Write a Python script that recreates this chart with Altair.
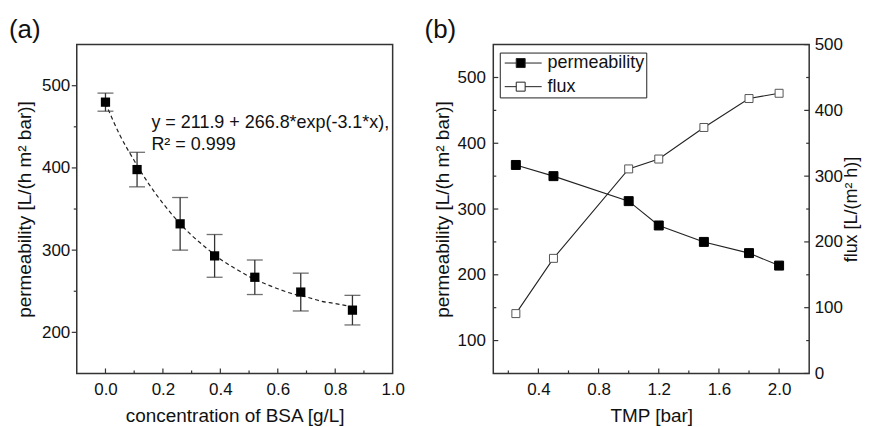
import altair as alt
import pandas as pd

FONT = "Liberation Sans"
INK = "#111111"
FRAME = "#333333"

# ---------------- panel (a) data ----------------
bsa_conc = [0.0, 0.11, 0.26, 0.38, 0.52, 0.68, 0.86]
bsa_perm = [480, 398, 332, 293, 267, 249, 227]
bsa_err = [11, 21, 32, 26, 21, 23, 18]
# dashed fit curve
fit_x = [0.0, 0.05, 0.1, 0.15, 0.2, 0.25, 0.3, 0.35, 0.4, 0.45, 0.5, 0.55, 0.6, 0.65, 0.7, 0.75, 0.8, 0.86]
fit_y = [479, 440, 409, 381, 357, 336, 318, 303, 289, 278, 268, 260, 253, 247, 243, 238, 235, 231]
fit_label = ["y = 211.9 + 266.8*exp(-3.1*x),", "R\u00b2 = 0.999"]

a_x_labels = [0.0, 0.2, 0.4, 0.6, 0.8, 1.0]
a_x_major = [0.0, 0.2, 0.4, 0.6, 0.8]
a_x_minor = [0.1, 0.3, 0.5, 0.7, 0.9]
a_y_major = [200, 300, 400, 500]
a_y_minor = [250, 350, 450]

# ---------------- panel (b) data ----------------
tmp = [0.25, 0.5, 1.0, 1.2, 1.5, 1.8, 2.0]
tmp_perm = [367, 350, 312, 275, 250, 233, 214]
tmp_flux = [91, 175, 311, 326, 374, 418, 426]
series = ["permeability", "flux"]

b_x_major = [0.4, 0.8, 1.2, 1.6, 2.0]
b_x_minor = [0.2, 0.6, 1.0, 1.4, 1.8]
b_yl_major = [100, 200, 300, 400, 500]
b_yl_minor = [150, 250, 350, 450]
b_yr_major = [0, 100, 200, 300, 400, 500]
b_yr_minor = [50, 150, 250, 350, 450]

W, H = 317, 330

# ================= panel (a) =================
xa = alt.Scale(domain=[-0.1, 1.0], nice=False, zero=False)
ya = alt.Scale(domain=[150, 550], nice=False, zero=False)
ax_xa = alt.Axis(title="concentration of BSA [g/L]", values=a_x_labels, format=".1f",
                 labelPadding=8, titlePadding=9)
ax_ya = alt.Axis(title="permeability [L/(h m\u00b2 bar)]", values=a_y_major,
                 labelPadding=7, titlePadding=7)

df_a = pd.DataFrame({
    "c": bsa_conc,
    "p": bsa_perm,
    "lo": [p - e for p, e in zip(bsa_perm, bsa_err)],
    "hi": [p + e for p, e in zip(bsa_perm, bsa_err)],
})
df_fit = pd.DataFrame({"c": fit_x, "p": fit_y})

fit = alt.Chart(df_fit).mark_line(
    strokeDash=[4, 3], strokeWidth=1.2, color="#222222", interpolate="monotone"
).encode(
    x=alt.X("c:Q", scale=xa, axis=ax_xa),
    y=alt.Y("p:Q", scale=ya, axis=ax_ya),
)
err = alt.Chart(df_a).mark_rule(color=FRAME, strokeWidth=1.3).encode(
    x=alt.X("c:Q", scale=xa, axis=ax_xa),
    y=alt.Y("lo:Q", scale=ya, axis=ax_ya),
    y2="hi:Q",
)
cap_lo = alt.Chart(df_a).mark_tick(orient="horizontal", size=16, thickness=1.3, color=FRAME).encode(
    x=alt.X("c:Q", scale=xa, axis=ax_xa),
    y=alt.Y("lo:Q", scale=ya, axis=ax_ya),
)
cap_hi = alt.Chart(df_a).mark_tick(orient="horizontal", size=16, thickness=1.3, color=FRAME).encode(
    x=alt.X("c:Q", scale=xa, axis=ax_xa),
    y=alt.Y("hi:Q", scale=ya, axis=ax_ya),
)
pts_a = alt.Chart(df_a).mark_square(size=86, color="black", opacity=1).encode(
    x=alt.X("c:Q", scale=xa, axis=ax_xa),
    y=alt.Y("p:Q", scale=ya, axis=ax_ya),
)
eq = alt.Chart(pd.DataFrame({"k": [0]})).mark_text(
    text=fit_label, align="left", baseline="alphabetic", font=FONT,
    fontSize=18, lineHeight=22.6, color=INK,
).encode(x=alt.datum(0.16, scale=xa, axis=ax_xa), y=alt.datum(448.6, scale=ya, axis=ax_ya))


def xticks(vals, scale, axis, length):
    return alt.Chart(pd.DataFrame({"c": vals})).mark_rule(color=FRAME, strokeWidth=1.2).encode(
        x=alt.X("c:Q", scale=scale, axis=axis), y=alt.value(H), y2=alt.value(H - length))


def yticks(vals, scale, axis, field, x0, x1):
    return alt.Chart(pd.DataFrame({field: vals})).mark_rule(color=FRAME, strokeWidth=1.2).encode(
        y=alt.Y(field + ":Q", scale=scale, axis=axis), x=alt.value(x0), x2=alt.value(x1))


lab_a = alt.Chart(pd.DataFrame({"k": [0]})).mark_text(
    text="(a)", align="left", baseline="top", font=FONT, fontSize=26, color=INK
).encode(x=alt.value(-68), y=alt.value(-28))

panel_a = alt.layer(
    fit, err, cap_lo, cap_hi, pts_a, eq,
    xticks(a_x_major, xa, ax_xa, 5), xticks(a_x_minor, xa, ax_xa, 3),
    yticks(a_y_major, ya, ax_ya, "p", 0, -5), yticks(a_y_minor, ya, ax_ya, "p", 0, -3),
    lab_a,
).properties(width=W, height=H)

# ================= panel (b) =================
xb = alt.Scale(domain=[0.1, 2.2], nice=False, zero=False)
ybl = alt.Scale(domain=[50, 550], nice=False, zero=False)
ybr = alt.Scale(domain=[0, 500], nice=False, zero=False)
ax_xb = alt.Axis(title="TMP [bar]", values=b_x_major, format=".1f", labelPadding=8, titlePadding=9)
ax_ybl = alt.Axis(title="permeability [L/(h m\u00b2 bar)]", values=b_yl_major,
                  labelPadding=8, titlePadding=5)
ax_ybr = alt.Axis(orient="right", title="flux [L/(m\u00b2 h)]", values=b_yr_major,
                  labelPadding=5, titlePadding=0, titleAngle=270, titleBaseline="top",
                  titleFontSize=18)

df_perm = pd.DataFrame({"TMP": tmp, "perm": tmp_perm, "series": series[0]})
df_flux = pd.DataFrame({"TMP": tmp, "flux": tmp_flux, "series": series[1]})

# legend glyph: short line with a square on it (unit = 8.5 px)
sym = "M-0.65,0H0.71M1.76,0H3.71M0.71,-0.53H1.76V0.53H0.71Z"
legend = alt.Legend(
    title=None, orient="none", legendX=6.5, legendY=8,
    strokeColor="#222222", padding=1.5, symbolType=sym, symbolSize=289,
    symbolStrokeColor="#222222", symbolStrokeWidth=1, symbolOffset=0,
    labelOffset=28.5, labelFont=FONT, labelFontSize=18, labelColor=INK,
    rowPadding=5.7,
)
fill_enc = alt.Fill("series:N", scale=alt.Scale(domain=series, range=["black", "white"]), legend=legend)

perm_line = alt.Chart(df_perm).mark_line(color="#222222", strokeWidth=1.1).encode(
    x=alt.X("TMP:Q", scale=xb, axis=ax_xb),
    y=alt.Y("perm:Q", scale=ybl, axis=ax_ybl),
)
perm_pts = alt.Chart(df_perm).mark_square(size=81, stroke="black", strokeWidth=1, opacity=1).encode(
    x=alt.X("TMP:Q", scale=xb, axis=ax_xb),
    y=alt.Y("perm:Q", scale=ybl, axis=ax_ybl),
    fill=fill_enc,
)
lab_b = alt.Chart(pd.DataFrame({"k": [0]})).mark_text(
    text="(b)", align="left", baseline="top", font=FONT, fontSize=26, color=INK
).encode(x=alt.value(-69), y=alt.value(-28))


def xticks_b(vals, length):
    return alt.Chart(pd.DataFrame({"TMP": vals})).mark_rule(color=FRAME, strokeWidth=1.2).encode(
        x=alt.X("TMP:Q", scale=xb, axis=ax_xb), y=alt.value(H), y2=alt.value(H - length))


perm_layer = alt.layer(
    perm_line, perm_pts,
    xticks_b(b_x_major, 5), xticks_b(b_x_minor, 3),
    yticks(b_yl_major, ybl, ax_ybl, "perm", 0, 5), yticks(b_yl_minor, ybl, ax_ybl, "perm", 0, 3),
    lab_b,
)

flux_line = alt.Chart(df_flux).mark_line(color="#222222", strokeWidth=1.1).encode(
    x=alt.X("TMP:Q", scale=xb, axis=ax_xb),
    y=alt.Y("flux:Q", scale=ybr, axis=ax_ybr),
)
flux_pts = alt.Chart(df_flux).mark_square(size=64, stroke="#555555", strokeWidth=1, opacity=1).encode(
    x=alt.X("TMP:Q", scale=xb, axis=ax_xb),
    y=alt.Y("flux:Q", scale=ybr, axis=ax_ybr),
    fill=fill_enc,
)
flux_layer = alt.layer(
    flux_line, flux_pts,
    yticks(b_yr_major, ybr, ax_ybr, "flux", W, W - 5), yticks(b_yr_minor, ybr, ax_ybr, "flux", W, W - 3),
)

panel_b = alt.layer(perm_layer, flux_layer).resolve_scale(y="independent").properties(width=W, height=H)

chart = alt.hconcat(panel_a, panel_b, spacing=101, bounds="flush").resolve_legend(
    fill="independent"
).properties(
    padding={"left": 0, "top": 7, "right": 0, "bottom": 0}
).configure_view(
    stroke=FRAME, strokeWidth=1.5
).configure_axis(
    domain=False, ticks=False, tickSize=0, grid=False,
    labelFont=FONT, labelFontSize=17, labelColor=INK,
    titleFont=FONT, titleFontSize=19, titleFontWeight="normal", titleColor=INK,
    labelFlush=False, labelOverlap=False,
)

chart.save("out.html", embed_options={"renderer": "svg", "actions": False})
